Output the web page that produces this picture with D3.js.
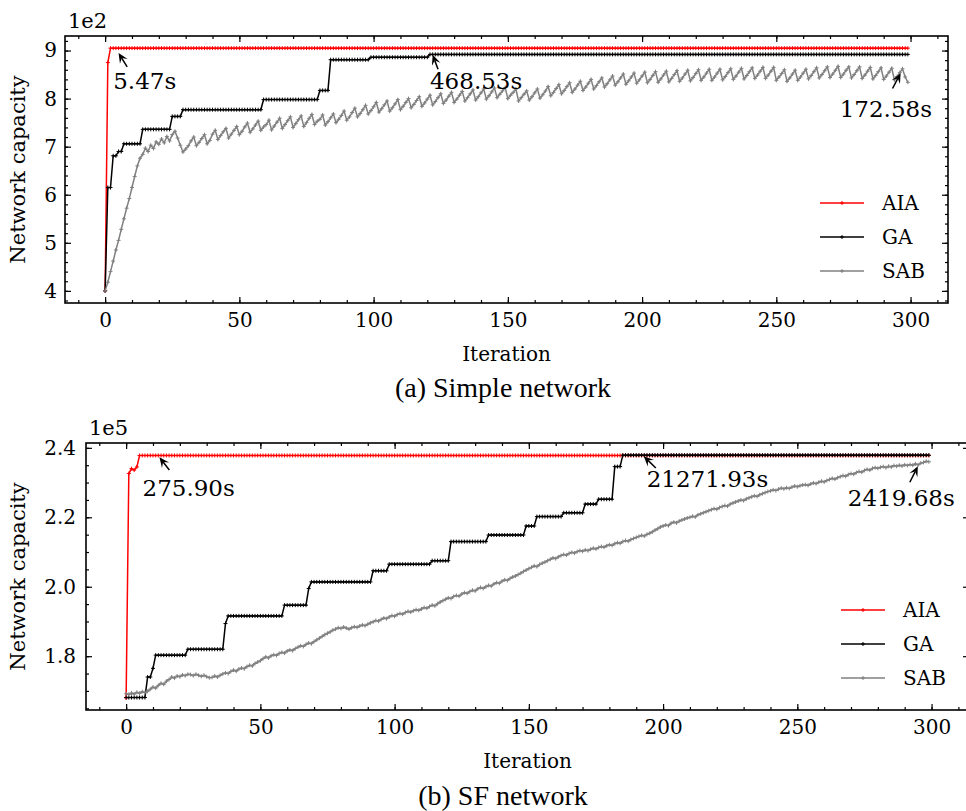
<!DOCTYPE html>
<html>
<head>
<meta charset="utf-8">
<script src="https://cdn.jsdelivr.net/npm/d3@7"></script>
<style>
body { margin: 0; background: #fff; }
svg { display: block; }
</style>
</head>
<body>
<script>
var w = 966, h = 811;

var seriesNames = ["AIA", "GA", "SAB"];
var seriesColours = ["#ff0000", "#000000", "#808080"];
var nIter = 300;

// best-so-far curves: [iteration where the value changes, new value]
var aiaSimple = [[0, 400], [1, 875], [2, 905]];
var gaSimple = [[0, 400], [1, 615], [3, 681], [5, 690], [7, 706], [14, 736], [25, 763], [29, 777],
                [59, 798], [80, 817], [84, 881], [99, 886], [121, 892]];
var sabSimple = [
  400, 418, 440, 462, 485, 505, 528, 550, 572, 592,
  615, 638, 660, 676, 684, 697, 690, 703, 696, 710,
  705, 716, 708, 721, 712, 725, 732, 718, 703, 689,
  695, 702, 712, 720, 702, 709, 717, 725, 706, 713,
  726, 734, 715, 723, 731, 738, 718, 726, 734, 742,
  725, 732, 741, 749, 730, 737, 745, 753, 734, 741,
  746, 755, 735, 743, 751, 759, 738, 746, 754, 762,
  740, 748, 756, 764, 742, 750, 759, 767, 746, 753,
  757, 766, 745, 752, 760, 768, 750, 757, 765, 774,
  755, 762, 771, 780, 762, 769, 777, 786, 768, 775,
  783, 792, 772, 779, 787, 795, 774, 781, 789, 798,
  777, 784, 792, 800, 781, 788, 796, 804, 784, 791,
  799, 807, 787, 794, 802, 810, 790, 797, 805, 813,
  792, 799, 807, 815, 795, 802, 810, 818, 797, 804,
  812, 820, 799, 806, 814, 822, 802, 809, 816, 823,
  800, 807, 813, 820, 795, 802, 809, 816, 797, 804,
  812, 820, 801, 808, 816, 825, 806, 813, 821, 829,
  810, 817, 825, 833, 813, 820, 828, 836, 817, 824,
  832, 840, 820, 827, 835, 843, 824, 831, 839, 847,
  828, 835, 843, 851, 830, 837, 845, 853, 832, 839,
  847, 855, 833, 840, 848, 856, 834, 841, 849, 857,
  835, 842, 850, 858, 836, 843, 851, 859, 837, 844,
  852, 860, 838, 845, 853, 861, 838, 845, 853, 861,
  839, 846, 854, 862, 840, 847, 855, 863, 841, 848,
  856, 864, 842, 849, 857, 865, 842, 849, 857, 865,
  838, 845, 852, 860, 836, 843, 851, 859, 838, 845,
  853, 861, 841, 848, 856, 864, 843, 850, 858, 866,
  844, 851, 859, 867, 844, 851, 859, 866, 843, 850,
  858, 866, 842, 849, 857, 865, 841, 848, 856, 864,
  840, 847, 855, 863, 839, 846, 854, 862, 845, 834
];

// SF network, values in units of 1e5
var aiaSF = [[0, 1.680], [1, 2.326], [2, 2.340], [3, 2.336], [4, 2.345], [5, 2.378]];
var gaSF = [[0, 1.681], [8, 1.740], [10, 1.765], [11, 1.803], [23, 1.820], [37, 1.894], [38, 1.916],
            [59, 1.947], [68, 1.995], [69, 2.014], [92, 2.046], [98, 2.065], [114, 2.075], [121, 2.130],
            [135, 2.149], [149, 2.175], [153, 2.202], [163, 2.213], [171, 2.238], [176, 2.252],
            [182, 2.346], [185, 2.379]];
var sabSF = [
  1.692, 1.690, 1.694, 1.691, 1.696, 1.693, 1.698, 1.695, 1.699, 1.705,
  1.711, 1.708, 1.716, 1.722, 1.719, 1.728, 1.733, 1.740, 1.737, 1.743,
  1.741, 1.746, 1.744, 1.748, 1.747, 1.744, 1.748, 1.745, 1.742, 1.745,
  1.741, 1.738, 1.739, 1.743, 1.740, 1.745, 1.749, 1.752, 1.750, 1.756,
  1.760, 1.757, 1.763, 1.766, 1.764, 1.770, 1.774, 1.772, 1.779, 1.783,
  1.787, 1.793, 1.798, 1.795, 1.801, 1.804, 1.802, 1.808, 1.811, 1.809,
  1.815, 1.818, 1.816, 1.822, 1.826, 1.830, 1.828, 1.834, 1.838, 1.836,
  1.842, 1.847, 1.852, 1.857, 1.862, 1.866, 1.870, 1.875, 1.878, 1.882,
  1.880, 1.884, 1.881, 1.878, 1.882, 1.885, 1.883, 1.887, 1.890, 1.888,
  1.892, 1.896, 1.899, 1.903, 1.901, 1.906, 1.910, 1.908, 1.913, 1.917,
  1.915, 1.920, 1.923, 1.921, 1.926, 1.929, 1.927, 1.931, 1.934, 1.932,
  1.936, 1.940, 1.938, 1.943, 1.947, 1.945, 1.951, 1.956, 1.960, 1.964,
  1.968, 1.966, 1.972, 1.975, 1.973, 1.979, 1.983, 1.981, 1.986, 1.990,
  1.988, 1.994, 1.998, 1.995, 2.000, 2.004, 2.002, 2.008, 2.012, 2.010,
  2.016, 2.020, 2.018, 2.024, 2.028, 2.031, 2.035, 2.039, 2.044, 2.048,
  2.052, 2.056, 2.060, 2.058, 2.064, 2.068, 2.071, 2.075, 2.079, 2.083,
  2.081, 2.086, 2.090, 2.093, 2.091, 2.096, 2.099, 2.097, 2.101, 2.104,
  2.102, 2.106, 2.104, 2.108, 2.111, 2.109, 2.113, 2.116, 2.114, 2.118,
  2.121, 2.119, 2.124, 2.127, 2.125, 2.130, 2.133, 2.131, 2.136, 2.139,
  2.142, 2.145, 2.148, 2.146, 2.151, 2.154, 2.158, 2.163, 2.167, 2.172,
  2.175, 2.178, 2.176, 2.183, 2.186, 2.184, 2.189, 2.192, 2.195, 2.198,
  2.200, 2.203, 2.201, 2.207, 2.210, 2.213, 2.216, 2.219, 2.222, 2.225,
  2.223, 2.228, 2.231, 2.234, 2.232, 2.238, 2.241, 2.244, 2.247, 2.250,
  2.248, 2.253, 2.256, 2.259, 2.262, 2.260, 2.265, 2.268, 2.271, 2.274,
  2.276, 2.279, 2.277, 2.281, 2.284, 2.282, 2.285, 2.283, 2.287, 2.290,
  2.288, 2.291, 2.293, 2.294, 2.292, 2.296, 2.299, 2.297, 2.301, 2.304,
  2.302, 2.306, 2.309, 2.312, 2.310, 2.314, 2.317, 2.320, 2.318, 2.323,
  2.326, 2.324, 2.329, 2.332, 2.330, 2.335, 2.338, 2.336, 2.341, 2.343,
  2.341, 2.344, 2.346, 2.343, 2.347, 2.345, 2.349, 2.347, 2.350, 2.348,
  2.351, 2.349, 2.352, 2.350, 2.354, 2.351, 2.356, 2.358, 2.361, 2.360
];

var xTicks = [0, 50, 100, 150, 200, 250, 300];
var yTicksSimple = [400, 500, 600, 700, 800, 900];
var yTicksSF = [1.8, 2.0, 2.2, 2.4];

// run-time annotations: arrow tip, arrow tail, text position (data coords)
var notesSimple = [
  { text: "5.47s", tip: [5, 895], tail: [8.2, 866], at: [3, 821] },
  { text: "468.53s", tip: [122, 891], tail: [124, 861], at: [121, 821] },
  { text: "172.58s", tip: [296.3, 853], tail: [293.3, 821], at: [273.6, 761.5] }
];
var notesSF = [
  { text: "275.90s", tip: [12.4, 2.373], tail: [16.1, 2.336], at: [6.1, 2.261] },
  { text: "21271.93s", tip: [192.8, 2.376], tail: [197.3, 2.342], at: [193.9, 2.287] },
  { text: "2419.68s", tip: [294.9, 2.347], tail: [291.9, 2.301], at: [268.8, 2.232] }
];

var serif = "'DejaVu Serif', serif";

var svg = d3.select("body").append("svg")
  .attr("width", w)
  .attr("height", h)
  .style("background", "#fff");

// hold each value until the next change point
function expandSteps(changes) {
  return d3.range(nIter).map(function(i) {
    var v = changes[0][1];
    changes.forEach(function(c) { if (c[0] <= i) v = c[1]; });
    return v;
  });
}

function padded(ext) {
  var m = (ext[1] - ext[0]) * 0.05;
  return [ext[0] - m, ext[1] + m];
}

function styleAxis(sel, labels) {
  sel.select(".domain").remove();
  sel.selectAll("line").attr("stroke", "#000").attr("stroke-width", 1.2);
  sel.selectAll("text")
    .attr("font-family", serif)
    .attr("font-size", 20)
    .attr("fill", "#000");
  if (!labels) sel.selectAll("text").remove();
}

function drawPanel(p) {
  var g = svg.append("g");
  var x = d3.scaleLinear().domain(padded([0, nIter - 1])).range([p.left, p.right]);
  var allValues = d3.merge(p.series.map(function(s) { return s.values; }));
  var y = d3.scaleLinear().domain(padded(d3.extent(allValues))).range([p.bottom, p.top]);

  var xMinor = d3.range(-10, 320, 10);
  var yMinor = d3.range(Math.ceil(y.domain()[0] / p.yMinorStep), Math.floor(y.domain()[1] / p.yMinorStep) + 1)
    .map(function(k) { return k * p.yMinorStep; });

  // major + minor ticks on all four sides, pointing inwards
  [[d3.axisBottom, p.bottom, true], [d3.axisTop, p.top, false]].forEach(function(a) {
    g.append("g").attr("transform", "translate(0," + a[1] + ")")
      .call(a[0](x).tickValues(xMinor).tickSize(-3).tickFormat(""))
      .call(styleAxis, false);
    g.append("g").attr("transform", "translate(0," + a[1] + ")")
      .call(a[0](x).tickValues(xTicks).tickSize(-6).tickPadding(10).tickFormat(d3.format("d")))
      .call(styleAxis, a[2]);
  });
  [[d3.axisLeft, p.left, true], [d3.axisRight, p.right, false]].forEach(function(a) {
    g.append("g").attr("transform", "translate(" + a[1] + ",0)")
      .call(a[0](y).tickValues(yMinor).tickSize(-3).tickFormat(""))
      .call(styleAxis, false);
    g.append("g").attr("transform", "translate(" + a[1] + ",0)")
      .call(a[0](y).tickValues(p.yTicks).tickSize(-6).tickPadding(p.yPad).tickFormat(p.yFormat))
      .call(styleAxis, a[2]);
  });

  g.append("rect")
    .attr("x", p.left).attr("y", p.top)
    .attr("width", p.right - p.left).attr("height", p.bottom - p.top)
    .attr("fill", "none").attr("stroke", "#000").attr("stroke-width", 1.6);

  // series
  var line = d3.line()
    .x(function(d, i) { return x(i); })
    .y(function(d) { return y(d); });

  p.series.forEach(function(s) {
    g.append("path")
      .attr("d", line(s.values))
      .attr("fill", "none")
      .attr("stroke", s.colour)
      .attr("stroke-width", 1.5);
    g.append("path")
      .attr("d", s.values.map(function(v, i) {
        var cx = x(i), cy = y(v);
        return "M" + (cx - 2) + "," + cy + "h4M" + cx + "," + (cy - 2) + "v4";
      }).join(""))
      .attr("fill", "none")
      .attr("stroke", s.colour)
      .attr("stroke-width", 1);
  });

  // annotations
  p.notes.forEach(function(n) {
    var x1 = x(n.tail[0]), y1 = y(n.tail[1]), x2 = x(n.tip[0]), y2 = y(n.tip[1]);
    var a = Math.atan2(y2 - y1, x2 - x1), c = Math.cos(a), s = Math.sin(a);
    var L = 10, W = 4.5;
    g.append("line")
      .attr("x1", x1).attr("y1", y1)
      .attr("x2", x2 - c * L * 0.6).attr("y2", y2 - s * L * 0.6)
      .attr("stroke", "#000").attr("stroke-width", 1.5);
    g.append("path")
      .attr("d", "M" + x2 + "," + y2 +
        "L" + (x2 - c * L + s * W) + "," + (y2 - s * L - c * W) +
        "L" + (x2 - c * L * 0.6) + "," + (y2 - s * L * 0.6) +
        "L" + (x2 - c * L - s * W) + "," + (y2 - s * L + c * W) + "Z")
      .attr("fill", "#000");
    g.append("text")
      .attr("x", x(n.at[0])).attr("y", y(n.at[1]))
      .attr("font-family", serif).attr("font-size", 23)
      .text(n.text);
  });

  // legend
  p.series.forEach(function(s, i) {
    var ly = p.bottom - 100 + i * 34, lx = p.right - 128;
    g.append("line")
      .attr("x1", lx).attr("x2", lx + 44).attr("y1", ly).attr("y2", ly)
      .attr("stroke", s.colour).attr("stroke-width", 1.5);
    g.append("path")
      .attr("d", "M" + (lx + 20) + "," + ly + "h4M" + (lx + 22) + "," + (ly - 2) + "v4")
      .attr("stroke", s.colour).attr("stroke-width", 1);
    g.append("text")
      .attr("x", p.right - 66).attr("y", ly).attr("dy", "0.36em")
      .attr("font-family", serif).attr("font-size", 20)
      .text(s.name);
  });

  // offset label, axis labels, caption
  g.append("text")
    .attr("x", p.left + 3).attr("y", p.top - 8)
    .attr("font-family", serif).attr("font-size", 21)
    .text(p.offsetText);
  g.append("text")
    .attr("x", (p.left + p.right) / 2).attr("y", p.bottom + 58)
    .attr("text-anchor", "middle")
    .attr("font-family", serif).attr("font-size", 20)
    .text("Iteration");
  g.append("text")
    .attr("transform", "translate(25," + ((p.top + p.bottom) / 2) + ") rotate(-90)")
    .attr("text-anchor", "middle")
    .attr("font-family", serif).attr("font-size", 21)
    .text("Network capacity");
  g.append("text")
    .attr("x", 503).attr("y", p.captionY)
    .attr("text-anchor", "middle")
    .attr("font-family", "'Liberation Serif', 'Times New Roman', serif").attr("font-size", 28)
    .text(p.caption);
}

function makeSeries(aia, ga, sab) {
  return [expandSteps(aia), expandSteps(ga), sab].map(function(v, i) {
    return { name: seriesNames[i], colour: seriesColours[i], values: v };
  });
}

drawPanel({
  left: 65, right: 948, top: 36, bottom: 303,
  series: makeSeries(aiaSimple, gaSimple, sabSimple),
  yTicks: yTicksSimple, yMinorStep: 20, yPad: 8,
  yFormat: function(d) { return d / 100; },
  offsetText: "1e2",
  notes: notesSimple,
  caption: "(a) Simple network", captionY: 397
});

drawPanel({
  left: 86, right: 969, top: 443, bottom: 710,
  series: makeSeries(aiaSF, gaSF, sabSF),
  yTicks: yTicksSF, yMinorStep: 0.05, yPad: 10,
  yFormat: d3.format(".1f"),
  offsetText: "1e5",
  notes: notesSF,
  caption: "(b) SF network", captionY: 805
});
</script>
</body>
</html>
